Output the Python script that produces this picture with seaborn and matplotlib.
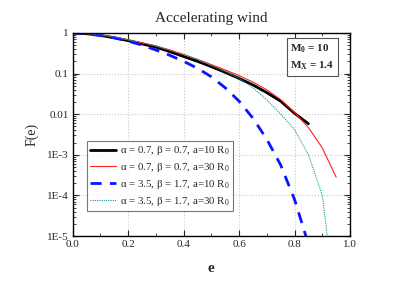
import numpy as np
import pandas as pd
import seaborn as sns
import matplotlib
matplotlib.use("Agg")
import matplotlib.pyplot as plt
from matplotlib.ticker import FixedLocator, FixedFormatter, LogLocator, NullFormatter

# data
e_a = [0, .05, .1, .15, .2, .25, .3, .35, .4, .45, .5, .55, .6, .65, .7, .75, .8, .85]
F_a07_10 = [1, 0.955, 0.871, 0.759, 0.646, 0.537, 0.447, 0.347, 0.263, 0.200, 0.148,
            0.107, 0.0759, 0.0525, 0.0339, 0.0209, 0.0105, 0.0058]

e_b = [0, .05, .1, .15, .2, .25, .3, .35, .4, .45, .5, .55, .6, .65, .7, .75, .8, .85, .9, .95]
F_a07_30 = [1, 0.955, 0.891, 0.794, 0.676, 0.575, 0.479, 0.380, 0.295, 0.224, 0.166,
            0.123, 0.0891, 0.0617, 0.0398, 0.0229, 0.0110, 0.00468, 0.00148, 0.00028]

e_c = [0, .05, .1, .15, .2, .25, .3, .35, .4, .45, .5, .55, .6, .65, .7, .75, .8, .85]
F_a35_10 = [1, 0.955, 0.871, 0.759, 0.631, 0.501, 0.380, 0.282, 0.200, 0.135, 0.0832,
            0.0447, 0.0209, 0.00794, 0.0024, 0.00056, 7.9e-5, 6.3e-6]

e_d = [0, .05, .1, .15, .2, .25, .3, .35, .4, .45, .5, .55, .6, .65, .7, .75, .8, .85, .9, .925]
F_a35_30 = [1, 0.955, 0.891, 0.794, 0.676, 0.575, 0.479, 0.380, 0.295, 0.219, 0.158,
            0.112, 0.0759, 0.0447, 0.0224, 0.0100, 0.00417, 0.00100, 0.00010, 4e-6]

labels = ["α = 0.7, β = 0.7, a=10 R$_0$",
          "α = 0.7, β = 0.7, a=30 R$_0$",
          "α = 3.5, β = 1.7, a=10 R$_0$",
          "α = 3.5, β = 1.7, a=30 R$_0$"]

ytick_vals = [1e-5, 1e-4, 1e-3, 1e-2, 1e-1, 1]
ytick_labels = ["1E-5", "1E-4", "1E-3", "0.01", "0.1", "1"]

sns.set_style("ticks")
plt.rcParams['font.family'] = ['Liberation Serif', 'DejaVu Serif']
plt.rcParams['mathtext.fontset'] = 'custom'
plt.rcParams['mathtext.rm'] = 'Liberation Serif'
plt.rcParams['mathtext.it'] = 'Liberation Serif:italic'
plt.rcParams['mathtext.bf'] = 'Liberation Serif:bold'

fig = plt.figure(figsize=(4.07, 2.84), dpi=100)
ax = fig.add_axes([0.1786, 0.169, 0.6814, 0.715])

sns.lineplot(x=e_a, y=F_a07_10, ax=ax, color="black", lw=2.0, label=labels[0])
sns.lineplot(x=e_b, y=F_a07_30, ax=ax, color="#ff2020", lw=0.8, label=labels[1])
sns.lineplot(x=e_c, y=F_a35_10, ax=ax, color="#0a14ff", lw=2.0, label=labels[2])
sns.lineplot(x=e_d, y=F_a35_30, ax=ax, color="#1a9a9a", lw=0.8, label=labels[3])
ax.lines[2].set_dashes([4, 3])
ax.lines[3].set_dashes([1, 1])

ax.set_yscale("log")
ax.set_xlim(0, 1)
ax.set_ylim(1e-5, 1)
ax.set_xticks([0, .2, .4, .6, .8, 1.0])
ax.set_xticklabels(["0.0", "0.2", "0.4", "0.6", "0.8", "1.0"])
ax.set_xticks([.1, .3, .5, .7, .9], minor=True)
ax.yaxis.set_major_locator(FixedLocator(ytick_vals))
ax.yaxis.set_major_formatter(FixedFormatter(ytick_labels))
ax.yaxis.set_minor_locator(LogLocator(base=10, subs=np.arange(2, 10), numticks=20))
ax.yaxis.set_minor_formatter(NullFormatter())
ax.tick_params(which="both", direction="in", top=True, right=True, labelsize=8, pad=3)
ax.tick_params(which="major", length=4, width=0.8)
ax.tick_params(which="minor", length=2, width=0.6)
ax.grid(True, which="major", ls=":", color="#c8c8c8", lw=0.8)
for s in ax.spines.values():
    s.set_linewidth(1.0)
    s.set_color("black")

ax.set_xlabel("e", fontsize=11, fontweight="bold", labelpad=9)
ax.set_ylabel("F(e)", fontsize=10, labelpad=6)
ax.set_title("Accelerating wind", fontsize=11, pad=8)

leg = ax.legend(loc="lower left", bbox_to_anchor=(0.05, 0.123), borderaxespad=0,
                fontsize=7.8, handlelength=2.4, frameon=True, fancybox=False,
                borderpad=0.3, labelspacing=0.35, handletextpad=0.4)
leg.get_frame().set_edgecolor("#555555")
leg.get_frame().set_linewidth(0.8)

ax.text(0.785, 0.955, r"$\mathbf{M_0}$ = 10" + "\n" + r"$\mathbf{M_X}$ = 1.4",
        transform=ax.transAxes, ha="left", va="top", fontsize=8, fontweight="bold",
        linespacing=1.6,
        bbox=dict(boxstyle="square,pad=0.35", fc="white", ec="#555555", lw=0.8))

fig.savefig("out.png", dpi=100)
